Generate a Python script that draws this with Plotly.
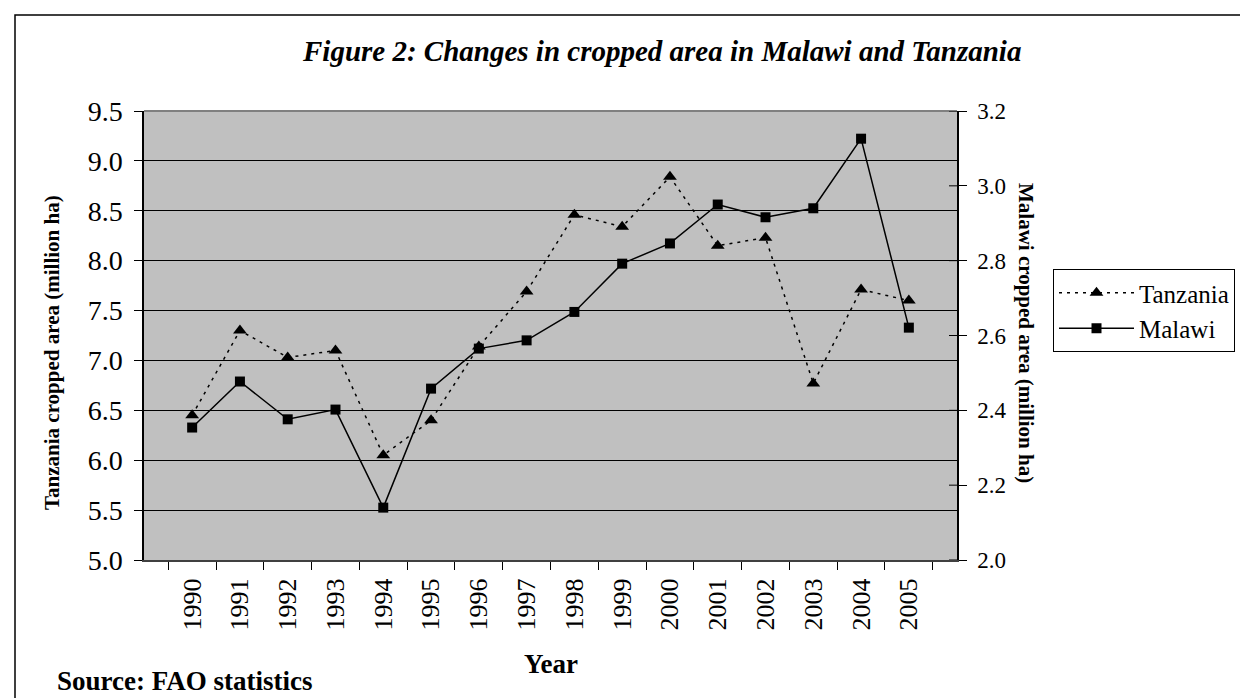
import plotly.graph_objects as go

years = [str(y) for y in range(1990, 2006)]
tanzania = [6.45, 7.30, 7.03, 7.10, 6.05, 6.40, 7.14, 7.69, 8.46, 8.34, 8.84, 8.15, 8.23, 6.77, 7.71, 7.60]
malawi = [2.354, 2.477, 2.376, 2.402, 2.140, 2.458, 2.565, 2.587, 2.663, 2.792, 2.846, 2.950, 2.916, 2.940, 3.126, 2.621]
left_ticks = [5.0, 5.5, 6.0, 6.5, 7.0, 7.5, 8.0, 8.5, 9.0, 9.5]
right_ticks = [2.0, 2.2, 2.4, 2.6, 2.8, 3.0, 3.2]

FONT = "Liberation Serif"
W, H = 1248, 698
L, R, T, B = 136, 949, 103, 552

fig = go.Figure()
fig.add_trace(go.Scatter(
    x=years, y=tanzania, name="Tanzania", mode="lines+markers",
    line=dict(color="black", width=1.5, dash="3px,5px"),
    marker=dict(symbol="triangle-up", size=12, color="black"),
    yaxis="y"))
fig.add_trace(go.Scatter(
    x=years, y=malawi, name="Malawi", mode="lines+markers",
    line=dict(color="black", width=1.5),
    marker=dict(symbol="square", size=10, color="black"),
    yaxis="y2"))

fig.update_layout(
    width=W, height=H,
    margin=dict(l=L, r=W - R, t=T, b=H - B, pad=0),
    paper_bgcolor="white", plot_bgcolor="#C0C0C0",
    font=dict(family=FONT, color="black"),
    showlegend=True,
    legend=dict(x=(1045 - L) / (R - L), y=(B - 261) / (B - T), xanchor="left", yanchor="top",
                bordercolor="black", borderwidth=1, bgcolor="white",
                font=dict(family=FONT, size=25), itemwidth=75, tracegroupgap=0),
    xaxis=dict(type="category", tickson="boundaries", ticks="outside", ticklen=8,
               tickcolor="black", tickangle=-90, tickfont=dict(size=26, family=FONT),
               ticklabelstandoff=6,
               showgrid=False, showline=True, linecolor="#404040", linewidth=2,
               mirror=False, zeroline=False),
    yaxis=dict(range=[5.0, 9.5], tickvals=left_ticks, ticktext=[f"{v:.1f}" for v in left_ticks],
               ticks="outside", ticklen=8, tickcolor="black", ticklabelstandoff=6,
               tickfont=dict(size=28, family=FONT), showgrid=True, gridcolor="black", gridwidth=1,
               showline=True, linecolor="black", linewidth=1.5, zeroline=False),
    yaxis2=dict(range=[2.0, 3.2], tickvals=right_ticks, ticktext=[f"{v:.1f}" for v in right_ticks],
                overlaying="y", side="right", ticks="outside", ticklen=8, tickcolor="black",
                ticklabelstandoff=6,
                tickfont=dict(size=23, family=FONT), showgrid=False,
                showline=True, linecolor="black", linewidth=1.5, zeroline=False),
)

# plot-area top border (gray)
fig.add_shape(type="line", xref="paper", yref="paper", x0=0, x1=1, y0=1, y1=1,
              line=dict(color="#808080", width=2))
# inside part of the right-axis cross ticks
for v in right_ticks:
    fig.add_shape(type="line", xref="paper", yref="y2", x0=1 - 8 / (R - L), x1=1, y0=v, y1=v,
                  line=dict(color="black", width=1))


def px(x):
    return (x - L) / (R - L)


def py(y):
    return (B - y) / (B - T)


# outer chart border
fig.add_shape(type="rect", xref="paper", yref="paper",
              x0=px(7), x1=px(1244), y0=py(702), y1=py(7),
              line=dict(color="black", width=1.5), layer="below")

fig.add_annotation(text="<b><i>Figure 2: Changes in cropped area in Malawi and Tanzania</i></b>",
                   xref="paper", yref="paper", x=px(653), y=py(43), showarrow=False,
                   font=dict(size=29, family=FONT), xanchor="center", yanchor="middle")
fig.add_annotation(text="<b>Tanzania cropped area (million ha)</b>", textangle=-90,
                   xref="paper", yref="paper", x=px(44), y=py(345), showarrow=False,
                   font=dict(size=21, family=FONT), xanchor="center", yanchor="middle")
fig.add_annotation(text="<b>Malawi cropped area (million ha)</b>", textangle=90,
                   xref="paper", yref="paper", x=px(1018), y=py(325), showarrow=False,
                   font=dict(size=21, family=FONT), xanchor="center", yanchor="middle")
fig.add_annotation(text="<b>Year</b>", xref="paper", yref="paper", x=px(543), y=py(656),
                   showarrow=False, font=dict(size=27, family=FONT),
                   xanchor="center", yanchor="middle")
fig.add_annotation(text="<b>Source: FAO statistics</b>", xref="paper", yref="paper",
                   x=px(47), y=py(673), showarrow=False, font=dict(size=27, family=FONT),
                   xanchor="left", yanchor="middle")

fig.write_html("out.html")
